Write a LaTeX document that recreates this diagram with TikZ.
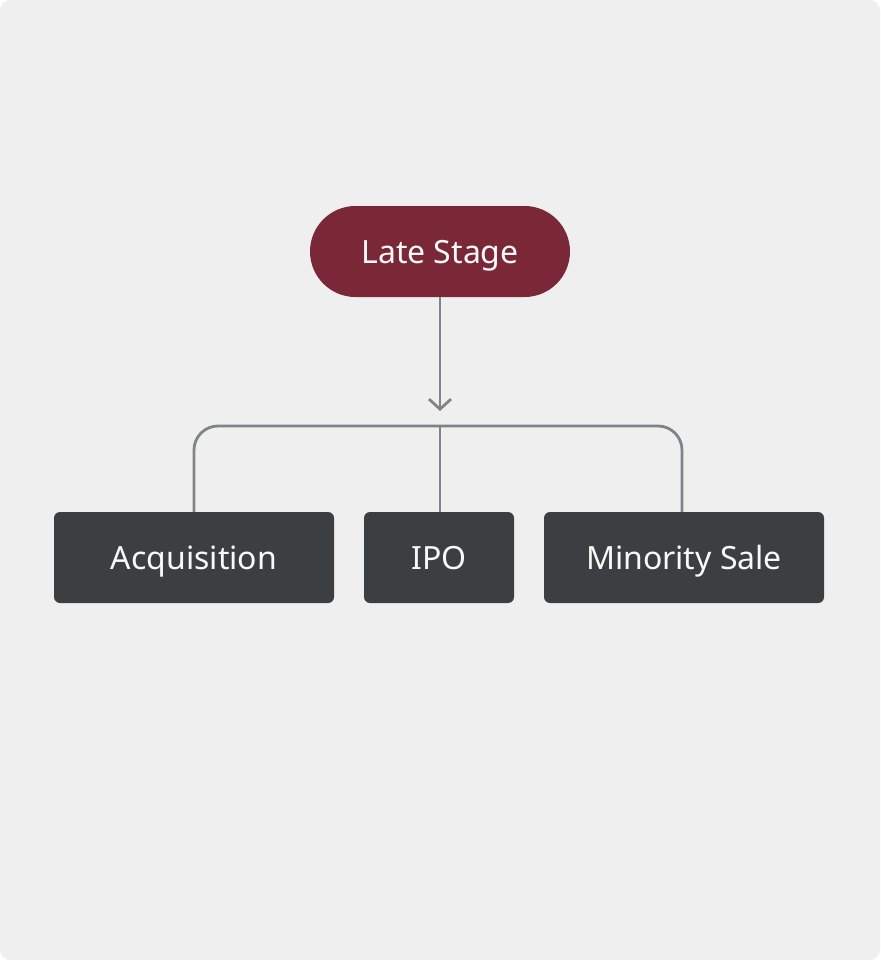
\documentclass[tikz,border=0pt]{standalone}
\usepackage{fontspec}
\setmainfont{Noto Sans}
\usetikzlibrary{arrows.meta}
\definecolor{bgc}{HTML}{EFEFEF}
\definecolor{latec}{HTML}{7A2838}
\definecolor{boxc}{HTML}{3C3F42}
\definecolor{linec}{HTML}{808387}
\tikzset{
  lbl/.style={text=white!95!gray, font=\fontsize{32}{36}\selectfont, inner sep=0pt, text height=23pt, text depth=0pt},
  pill/.style={lbl, fill=latec, minimum width=260pt, minimum height=91pt, rounded corners=45.5pt},
  outbox/.style={lbl, fill=boxc, minimum height=91pt, rounded corners=6pt},
  conn/.style={draw=linec, line width=2.8pt},
}
\begin{document}
\begin{tikzpicture}[x=1pt,y=-1pt]
\useasboundingbox (0,0) rectangle (880,960);
\fill[bgc, rounded corners=10pt] (0,0) rectangle (880,960);
\node[pill] (late) at (440,251.5) {Late Stage};
\node[outbox, minimum width=280pt] (acq) at (194,557.5) {Acquisition};
\node[outbox, minimum width=150pt] (ipo) at (439,557.5) {IPO};
\node[outbox, minimum width=280pt] (min) at (684,557.5) {Minority Sale};
\coordinate (arrend) at (440,411);
\coordinate (busc) at (440,426);
\draw[conn, -{Straight Barb[length=10pt,width=22pt,line width=2.8pt]}] (late.south) -- (arrend);
\draw[conn, rounded corners=24pt] (acq.north) |- (busc) -| ([xshift=-2pt]min.north);
\draw[conn] (busc) -- (busc |- ipo.north);
\end{tikzpicture}
\end{document}
